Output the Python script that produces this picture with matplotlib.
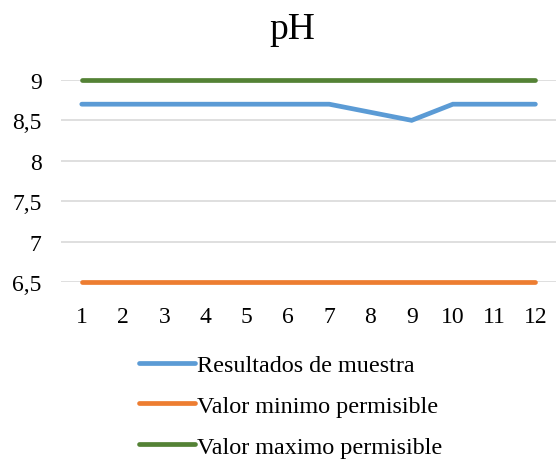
import matplotlib
matplotlib.use("Agg")
import matplotlib.pyplot as plt

plt.rcParams["font.family"] = ["Liberation Serif", "DejaVu Serif"]

# sample number on the x axis
muestras = [str(i) for i in range(1, 13)]
resultados = [8.7, 8.7, 8.7, 8.7, 8.7, 8.7, 8.7, 8.6, 8.5, 8.7, 8.7, 8.7]
valor_minimo = [6.5] * 12
valor_maximo = [9.0] * 12
y_ticks = [6.5, 7.0, 7.5, 8.0, 8.5, 9.0]

BLUE = "#5B9BD5"
ORANGE = "#ED7D31"
GREEN = "#548235"
GRID = "#D9D9D9"

fig = plt.figure(figsize=(5.56, 4.6), dpi=100, facecolor="white")
ax = fig.add_axes([0.11, 0.385, 0.89, 0.439])

x = list(range(len(muestras)))
series = [
    (resultados, BLUE, "Resultados de muestra"),
    (valor_minimo, ORANGE, "Valor minimo permisible"),
    (valor_maximo, GREEN, "Valor maximo permisible"),
]
for ys, color, label in series:
    ax.plot(x, ys, color=color, lw=3.4, solid_capstyle="round",
            solid_joinstyle="miter", label=label, zorder=3, clip_on=False)

ax.set_xlim(-0.5, len(muestras) - 0.5)
ax.set_ylim(6.5, 9.0)
ax.set_xticks(x)
ax.set_xticklabels(muestras)
ax.set_yticks(y_ticks)
ax.set_yticklabels([f"{v:g}".replace(".", ",") for v in y_ticks])
ax.tick_params(length=0, labelsize=17, colors="#000000")
ax.tick_params(axis="x", pad=17)
ax.tick_params(axis="y", pad=14)
ax.grid(axis="y", color=GRID, lw=1.2, zorder=0)
ax.set_axisbelow(True)
for spine in ax.spines.values():
    spine.set_visible(False)

fig.text(0.525, 0.935, "pH", ha="center", va="center", fontsize=27)

fig.legend(loc="upper left", bbox_to_anchor=(0.25, 0.228), frameon=False,
           fontsize=17.4, handlelength=2.3, handletextpad=0.12,
           labelspacing=0.78, borderpad=0, borderaxespad=0)

fig.savefig("out.png", dpi=100, facecolor="white")
